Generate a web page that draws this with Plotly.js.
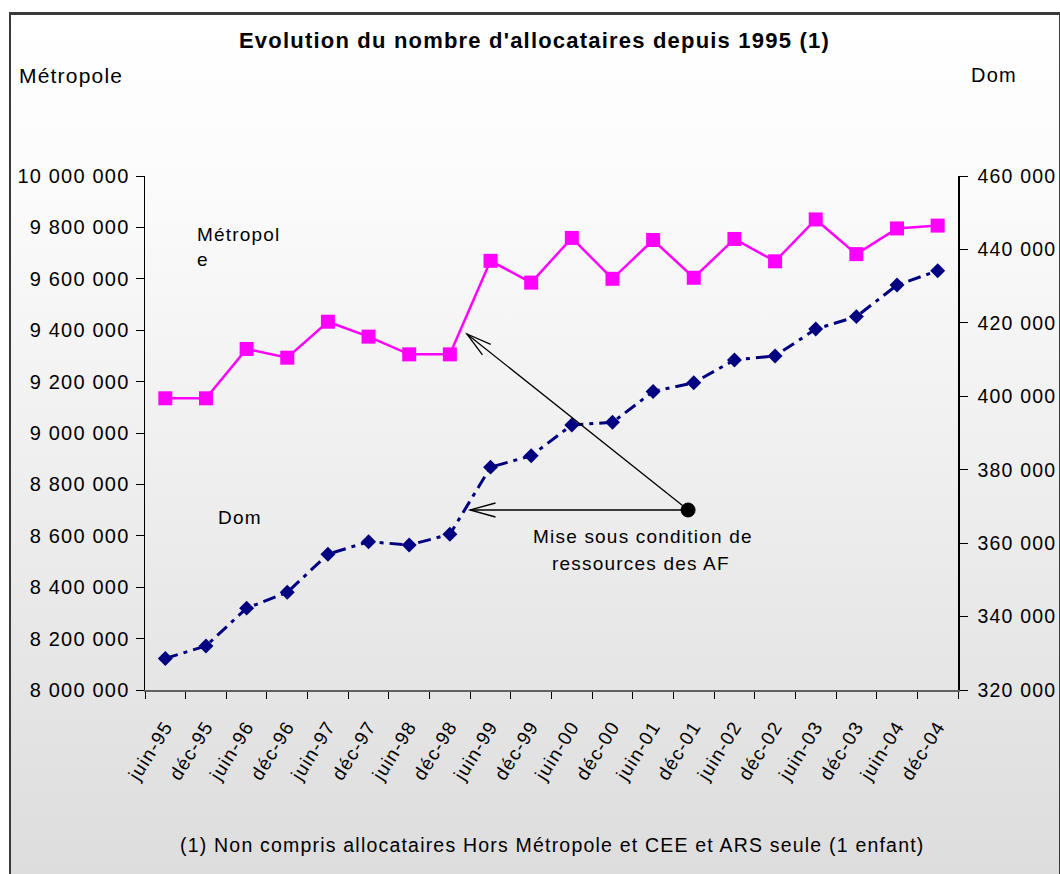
<!DOCTYPE html>
<html>
<head>
<meta charset="utf-8">
<script src="https://cdn.plot.ly/plotly-3.0.1.min.js"></script>
<style>
  html, body { margin: 0; padding: 0; width: 1060px; height: 874px; overflow: hidden; background: #ffffff; }
  #frame { position: absolute; left: 9px; top: 12px; width: 1048px; height: 880px;
           border-top: 3px solid #3a3a3a; border-left: 2px solid #3a3a3a; border-right: 2px solid #3a3a3a;
           background: linear-gradient(to bottom, #ffffff 0%, #fbfbfb 20%, #dcdcdc 100%); }
  #chart { position: absolute; left: 0; top: 0; width: 1060px; height: 874px; }
  text { letter-spacing: 1.2px; }
</style>
</head>
<body>
<div id="frame"></div>
<div id="chart"></div>
<script>
// ---- data ----
const categories = ['juin-95','déc-95','juin-96','déc-96','juin-97','déc-97','juin-98','déc-98','juin-99','déc-99',
                    'juin-00','déc-00','juin-01','déc-01','juin-02','déc-02','juin-03','déc-03','juin-04','déc-04'];
const metropole = [9135000, 9135000, 9327000, 9293000, 9433000, 9375000, 9306000, 9306000, 9670000, 9585000,
                   9759000, 9600000, 9751000, 9604000, 9755000, 9668000, 9831000, 9696000, 9796000, 9807000];
const dom = [328600, 332000, 342300, 346600, 357000, 360400, 359500, 362400, 380700, 383800,
             392200, 392900, 401300, 403700, 409900, 411000, 418300, 421700, 430300, 434200];
const leftRange = [8000000, 10000000];
const rightRange = [320000, 460000];
const titleText = "Evolution du nombre d'allocataires depuis 1995 (1)";
const leftAxisTitle = 'Métropole';
const rightAxisTitle = 'Dom';
const footnote = '(1) Non compris allocataires Hors Métropole et CEE et ARS seule (1 enfant)';
const noteLine1 = 'Mise sous condition de';
const noteLine2 = 'ressources des AF';

// ---- layout geometry ----
const W = 1060, H = 874;
const M = {l: 145, r: 102, t: 176, b: 184};
const PW = W - M.l - M.r, PH = H - M.t - M.b;
const px = x => (x - M.l) / PW;       // page pixel -> paper x
const py = y => (H - M.b - y) / PH;   // page pixel -> paper y
const FONT = 'Liberation Sans, Arial, sans-serif';

const traces = [
  { x: categories, y: metropole, type: 'scatter', mode: 'lines+markers', name: 'Métropole',
    xaxis: 'x', yaxis: 'y',
    line: {color: '#ff00ff', width: 2.5},
    marker: {symbol: 'square', size: 14, color: '#ff00ff'} },
  { x: categories, y: dom, type: 'scatter', mode: 'lines+markers', name: 'Dom',
    xaxis: 'x', yaxis: 'y2',
    line: {color: '#000080', width: 3, dash: '13px,6px,4px,6px'},
    marker: {symbol: 'diamond', size: 11.5, color: '#000080'} }
];

// arrow geometry (annotation positions, in axis units of left axis / category index)
const tail = {x: 12.86, y: 8700400};
const tipUp = {x: 7.42, y: 9385200};
const tipLeft = {x: 7.495, y: 8700400};

const txt = (text, x, y, size, xanchor, extra) => Object.assign({
  text: text, xref: 'paper', yref: 'paper', x: px(x), y: py(y), showarrow: false,
  font: {family: FONT, size: size, color: '#000'}, xanchor: xanchor, yanchor: 'middle'}, extra || {});

const annotations = [
  txt('<b>' + titleText + '</b>', 534, 40, 22, 'center'),
  txt(leftAxisTitle, 17, 75, 21, 'left'),
  txt(rightAxisTitle, 1019, 75, 20, 'right'),
  txt('Métropol<br>e', 195, 222, 19, 'left', {yanchor: 'top', align: 'left'}),
  txt('Dom', 216, 517, 19, 'left'),
  txt(noteLine1, 643, 536, 19, 'center'),
  txt(noteLine2, 641, 563, 19, 'center'),
  txt(footnote, 552, 845, 19.5, 'center'),
  // arrow shafts
  {xref: 'x', yref: 'y', x: tipUp.x, y: tipUp.y, axref: 'x', ayref: 'y', ax: tail.x, ay: tail.y,
   showarrow: true, arrowhead: 0, arrowwidth: 1.3, arrowcolor: '#000', text: ''},
  {xref: 'x', yref: 'y', x: tipLeft.x, y: tipLeft.y, axref: 'x', ayref: 'y', ax: tail.x, ay: tail.y,
   showarrow: true, arrowhead: 0, arrowwidth: 1.3, arrowcolor: '#000', text: ''}
];

const shapes = [
  // black dot at arrow origin
  {type: 'circle', xref: 'x', yref: 'y', xsizemode: 'pixel', ysizemode: 'pixel',
   xanchor: tail.x, yanchor: tail.y, x0: -7, x1: 7, y0: -7, y1: 7,
   fillcolor: '#000', line: {color: '#000', width: 1}},
  // open arrowheads
  {type: 'path', xref: 'x', yref: 'y', xsizemode: 'pixel', ysizemode: 'pixel',
   xanchor: tipUp.x, yanchor: tipUp.y, path: 'M23.8,-10.4L0,0L15.5,-20.9',
   line: {color: '#000', width: 1.3}},
  {type: 'path', xref: 'x', yref: 'y', xsizemode: 'pixel', ysizemode: 'pixel',
   xanchor: tipLeft.x, yanchor: tipLeft.y, path: 'M25.5,7L0,0L25.5,-7',
   line: {color: '#000', width: 1.3}}
];

const tickFont = {family: FONT, size: 20, color: '#000'};
const layout = {
  width: W, height: H,
  margin: M,
  paper_bgcolor: 'rgba(0,0,0,0)',
  plot_bgcolor: 'rgba(0,0,0,0)',
  showlegend: false,
  separators: ', ',
  xaxis: {type: 'category', range: [-0.5, 19.5], tickson: 'boundaries', ticks: 'outside', ticklen: 7,
          tickcolor: '#000', tickwidth: 1, showline: true, linecolor: '#606060', linewidth: 2,
          showgrid: false, zeroline: false, tickangle: -58, ticklabelstandoff: 16,
          tickfont: {family: FONT, size: 19, color: '#000'}},
  xaxis2: {overlaying: 'x', anchor: 'y', range: [-0.5, 19.5], tick0: -0.5, dtick: 1, ticks: 'inside',
           ticklen: 4, tickcolor: '#000', showticklabels: false, showgrid: false, zeroline: false, showline: false},
  yaxis: {range: leftRange, dtick: 200000, tickformat: ',d', ticks: 'outside', ticklen: 8, tickcolor: '#000',
          showline: true, linecolor: '#000', linewidth: 1.5, showgrid: false, zeroline: false,
          tickfont: tickFont, ticklabelstandoff: 2},
  yaxis2: {overlaying: 'y', side: 'right', range: rightRange, dtick: 20000, tickformat: ',d', ticks: 'outside',
           ticklen: 8, tickcolor: '#000', showline: true, linecolor: '#000', linewidth: 1.5,
           showgrid: false, zeroline: false, tickfont: {family: FONT, size: 19.5, color: '#000'},
           ticklabelstandoff: 6},
  yaxis3: {overlaying: 'y', side: 'left', anchor: 'x', range: leftRange, dtick: 200000, ticks: 'inside', ticklen: 7,
           tickcolor: '#000', showticklabels: false, showgrid: false, zeroline: false, showline: false},
  yaxis4: {overlaying: 'y', side: 'right', anchor: 'x', range: rightRange, dtick: 20000, ticks: 'inside', ticklen: 7,
           tickcolor: '#000', showticklabels: false, showgrid: false, zeroline: false, showline: false},
  annotations: annotations,
  shapes: shapes
};

Plotly.newPlot('chart', traces, layout, {staticPlot: true, displayModeBar: false});
</script>
</body>
</html>
